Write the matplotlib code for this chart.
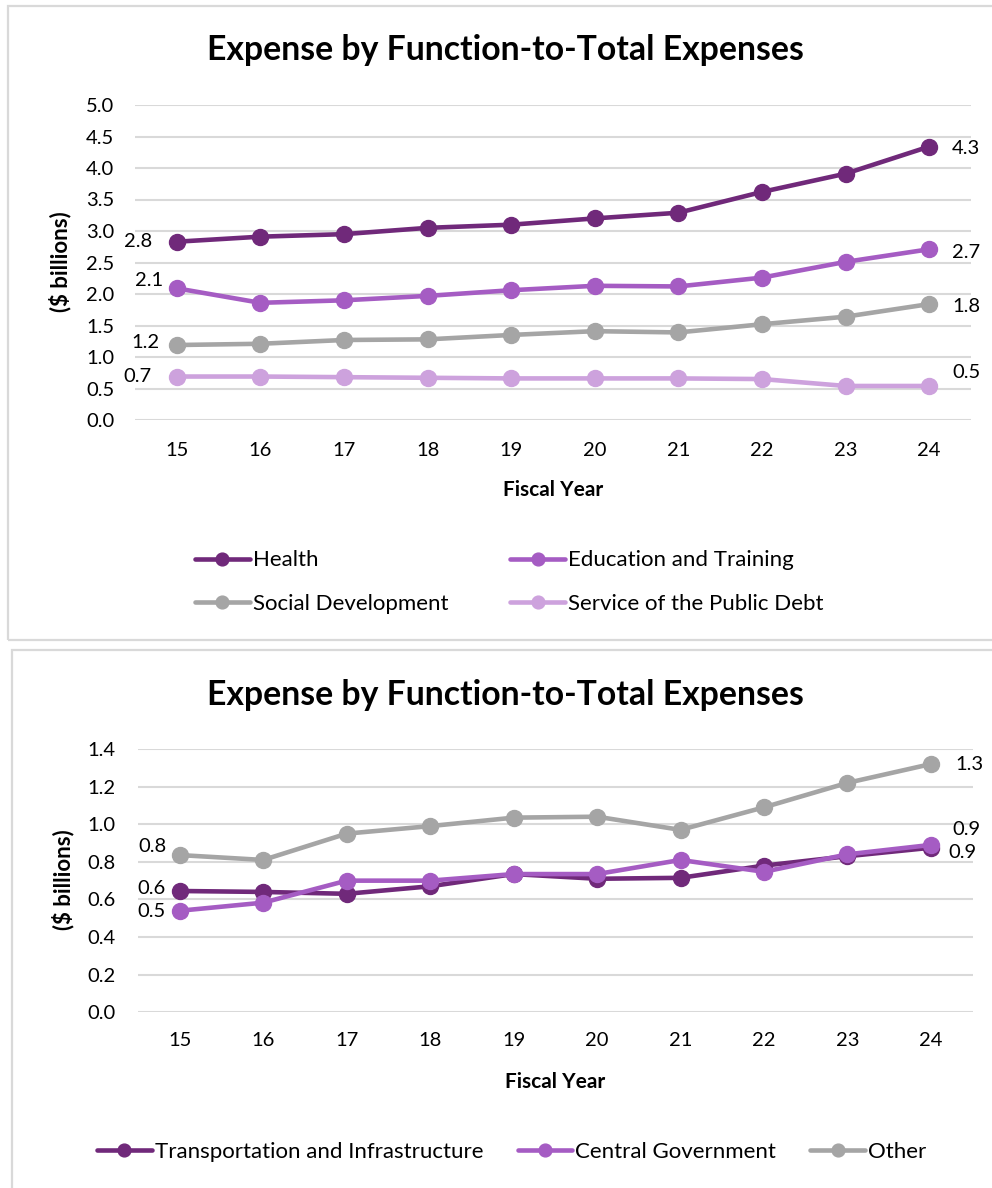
import matplotlib
matplotlib.use("Agg")
import matplotlib.pyplot as plt
from matplotlib.patches import Rectangle

plt.rcParams['font.family'] = ['Lato', 'DejaVu Sans']

# ---------------- data ----------------
years = ["15", "16", "17", "18", "19", "20", "21", "22", "23", "24"]

health = [2.83, 2.91, 2.95, 3.05, 3.10, 3.20, 3.29, 3.62, 3.91, 4.34]
education = [2.09, 1.86, 1.90, 1.97, 2.06, 2.13, 2.12, 2.26, 2.51, 2.71]
social = [1.19, 1.21, 1.27, 1.28, 1.35, 1.41, 1.39, 1.52, 1.64, 1.84]
public_debt = [0.69, 0.69, 0.68, 0.67, 0.66, 0.66, 0.66, 0.65, 0.54, 0.54]

transport = [0.645, 0.64, 0.63, 0.67, 0.735, 0.71, 0.715, 0.78, 0.83, 0.875]
central_gov = [0.54, 0.583, 0.70, 0.70, 0.735, 0.735, 0.81, 0.747, 0.84, 0.89]
other = [0.836, 0.81, 0.95, 0.99, 1.035, 1.04, 0.97, 1.09, 1.22, 1.32]

top_names = ["Health", "Education and Training", "Social Development", "Service of the Public Debt"]
bottom_names = ["Transportation and Infrastructure", "Central Government", "Other"]

title = "Expense by Function-to-Total Expenses"
xlabel = "Fiscal Year"
ylabel = "($ billions)"

# ---------------- style ----------------
DARK = "#70297A"
MED = "#A55CC3"
GRAY = "#A5A5A5"
LIGHT = "#CDA2DD"
GRID = "#D9D9D9"

TICK_FS = 14.5
LEG_FS = 16

W, H = 992, 1188
fig = plt.figure(figsize=(W / 100, H / 100), dpi=100)


def fx(x):
    return x / W


def fy(y):
    return 1 - y / H


# panel borders
fig.patches.append(Rectangle((fx(8), fy(640)), fx(1100), fy(6) - fy(640),
                             transform=fig.transFigure, fill=False,
                             edgecolor=GRID, linewidth=1.6))
fig.patches.append(Rectangle((fx(12), fy(1300)), fx(1100), fy(650) - fy(1300),
                             transform=fig.transFigure, fill=False,
                             edgecolor=GRID, linewidth=1.6))

PX = 0.72  # points per pixel


def make_axes(left, right, top, bottom):
    ax = fig.add_axes([fx(left), fy(bottom), fx(right) - fx(left), fy(top) - fy(bottom)])
    for s in ax.spines.values():
        s.set_visible(False)
    ax.grid(axis="y", color=GRID, linewidth=1.5)
    ax.set_axisbelow(True)
    ax.tick_params(length=0, labelsize=TICK_FS, colors="#000000")
    return ax


def draw(ax, series, colors, names, offsets, ylim, yticks, fmt, xpad, ypad):
    xs = list(range(len(years)))
    lines = []
    for vals, c, n, (lo, ro) in zip(series, colors, names, offsets):
        ln, = ax.plot(xs, vals, color=c, linewidth=3.3, marker="o",
                      markersize=11.5, label=n, solid_capstyle="round", zorder=3)
        lines.append(ln)
        ax.annotate(f"{vals[0]:.1f}", (xs[0], vals[0]), xytext=(lo[0] * PX, lo[1] * PX),
                    textcoords="offset points", ha="right", va="center", fontsize=TICK_FS)
        ax.annotate(f"{vals[-1]:.1f}", (xs[-1], vals[-1]), xytext=(ro[0] * PX, ro[1] * PX),
                    textcoords="offset points", ha="left", va="center", fontsize=TICK_FS)
    ax.set_xlim(-0.5, len(years) - 0.5)
    ax.set_ylim(*ylim)
    ax.set_xticks(xs)
    ax.set_xticklabels(years)
    ax.set_yticks(yticks)
    ax.set_yticklabels([fmt.format(v) for v in yticks])
    ax.tick_params(axis="x", pad=xpad)
    ax.tick_params(axis="y", pad=ypad)
    return lines


# ---------------- top chart ----------------
ax1 = make_axes(135, 971, 105, 420)
top_offsets = [((-25, 0), (23, -2)), ((-14, 8), (23, -3)),
               ((-17, 3), (23, -2)), ((-25, 0), (23, 13))]
l1 = draw(ax1, [health, education, social, public_debt], [DARK, MED, GRAY, LIGHT],
          top_names, top_offsets, (0, 5.0), [i * 0.5 for i in range(11)], "{:.1f}", 16, 15)
fig.text(fx(505), fy(50), title, ha="center", va="center", fontsize=24.3, fontweight="bold")
fig.text(fx(553), fy(490), xlabel, ha="center", va="center", fontsize=15, fontweight="bold")
fig.text(fx(60), fy(262), ylabel, ha="center", va="center", rotation=90, fontsize=16, fontweight="bold")
# row-major order like the original: Health, Education / Social, Debt
fig.legend(handles=[l1[0], l1[2], l1[1], l1[3]], loc="center left",
           bbox_to_anchor=(fx(195), fy(582)), ncol=2,
           frameon=False, fontsize=LEG_FS, handlelength=2.47, handletextpad=0.12,
           columnspacing=2.8, labelspacing=1.05, numpoints=1, markerscale=0.8,
           borderaxespad=0, borderpad=0)

# ---------------- bottom chart ----------------
ax2 = make_axes(138, 972.7, 749, 1012.3)
bot_offsets = [((-14, 2), (17, -5)), ((-14, -1), (21, 15)), ((-13, 9), (24, 0))]
l2 = draw(ax2, [transport, central_gov, other], [DARK, MED, GRAY],
          bottom_names, bot_offsets, (0, 1.4), [i * 0.2 for i in range(8)], "{:.1f}", 14, 16)
fig.text(fx(505), fy(695), title, ha="center", va="center", fontsize=24.3, fontweight="bold")
fig.text(fx(555), fy(1082), xlabel, ha="center", va="center", fontsize=15, fontweight="bold")
fig.text(fx(63), fy(880), ylabel, ha="center", va="center", rotation=90, fontsize=16, fontweight="bold")
fig.legend(handles=l2, loc="center left", bbox_to_anchor=(fx(97), fy(1152)), ncol=3,
           frameon=False, fontsize=LEG_FS, handlelength=2.47, handletextpad=0.12,
           columnspacing=1.55, numpoints=1, markerscale=0.8,
           borderaxespad=0, borderpad=0)

fig.savefig("out.png", dpi=100)
